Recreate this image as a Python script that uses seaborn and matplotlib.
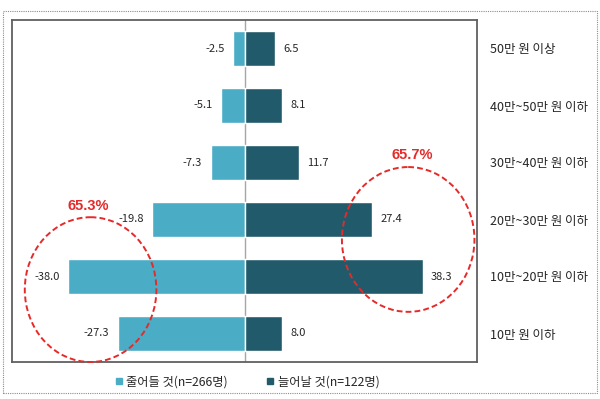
import matplotlib
matplotlib.use("Agg")
import matplotlib.pyplot as plt
import seaborn as sns
import pandas as pd
from matplotlib.patches import Ellipse, Rectangle
from matplotlib.lines import Line2D

categories = ["50만 원 이상", "40만~50만 원 이하", "30만~40만 원 이하",
              "20만~30만 원 이하", "10만~20만 원 이하", "10만 원 이하"]
decrease = [-2.5, -5.1, -7.3, -19.8, -38.0, -27.3]
increase = [6.5, 8.1, 11.7, 27.4, 38.3, 8.0]
series_names = ["줄어들 것(n=266명)", "늘어날 것(n=122명)"]
notes = ["65.3%", "65.7%"]

sns.set_style("white")
plt.rcParams['font.family'] = ['Noto Sans CJK KR', 'DejaVu Sans']

c_light = "#4BACC6"
c_dark = "#215B6B"

fig = plt.figure(figsize=(6.0, 3.99), dpi=100)
ax = fig.add_axes([12/600, 1-362/399, (477-12)/600, (362-20)/399])

df = pd.DataFrame({"cat": categories, "dec": decrease, "inc": increase})
sns.barplot(data=df, x="dec", y="cat", color=c_light, width=0.62, ax=ax, orient="h", saturation=1)
sns.barplot(data=df, x="inc", y="cat", color=c_dark, width=0.62, ax=ax, orient="h", saturation=1)

ax.set_xlim(-50, 50)
ax.set_ylim(len(categories)-0.5, -0.5)
ax.axvline(0, color="#A6A6A6", lw=1.0, zorder=0.5)
ax.set_xlabel("")
ax.set_ylabel("")
ax.set_xticks([])
ax.yaxis.tick_right()
ax.tick_params(axis="y", length=0, pad=9, labelsize=9, labelcolor="#262626")
for s in ax.spines.values():
    s.set_color("#606060")
    s.set_linewidth(1.3)

for i, (d, v) in enumerate(zip(decrease, increase)):
    ax.annotate(f"{d:.1f}", (d, i), xytext=(-6, 0), textcoords="offset points",
                ha="right", va="center", fontsize=8, color="#262626")
    ax.annotate(f"{v:.1f}", (v, i), xytext=(6, 0), textcoords="offset points",
                ha="left", va="center", fontsize=8, color="#262626")

red = "#E52A2A"
ax.add_patch(Ellipse((-33.1, 4.23), 28.3, 2.54, fill=False, ec=red, ls=(0, (3, 1.6)),
                     lw=1.4, clip_on=False, zorder=5))
ax.add_patch(Ellipse((35.2, 3.35), 28.5, 2.54, fill=False, ec=red, ls=(0, (3, 1.6)),
                     lw=1.4, clip_on=False, zorder=5))
ax.text(-33.7, 2.76, notes[0], color=red, fontsize=10.5, fontweight="bold",
        ha="center", va="center", family="Liberation Sans")
ax.text(36.0, 1.86, notes[1], color=red, fontsize=10.5, fontweight="bold",
        ha="center", va="center", family="Liberation Sans")

handles = [Line2D([], [], marker="s", ls="", color=c_light, markersize=5),
           Line2D([], [], marker="s", ls="", color=c_dark, markersize=5)]
fig.legend(handles, series_names, loc="center", bbox_to_anchor=(246/600, 1-382/399),
           ncol=2, frameon=False, fontsize=8.8, handletextpad=0.1, columnspacing=3.0,
           handlelength=1.0)

fig.patches.append(Rectangle((2.5/600, 1-393/399), 594/600, 382/399, transform=fig.transFigure,
                             fill=False, ec="#8C8C8C", ls=(0, (1, 1)), lw=0.8))

fig.savefig("out.png", dpi=100)
